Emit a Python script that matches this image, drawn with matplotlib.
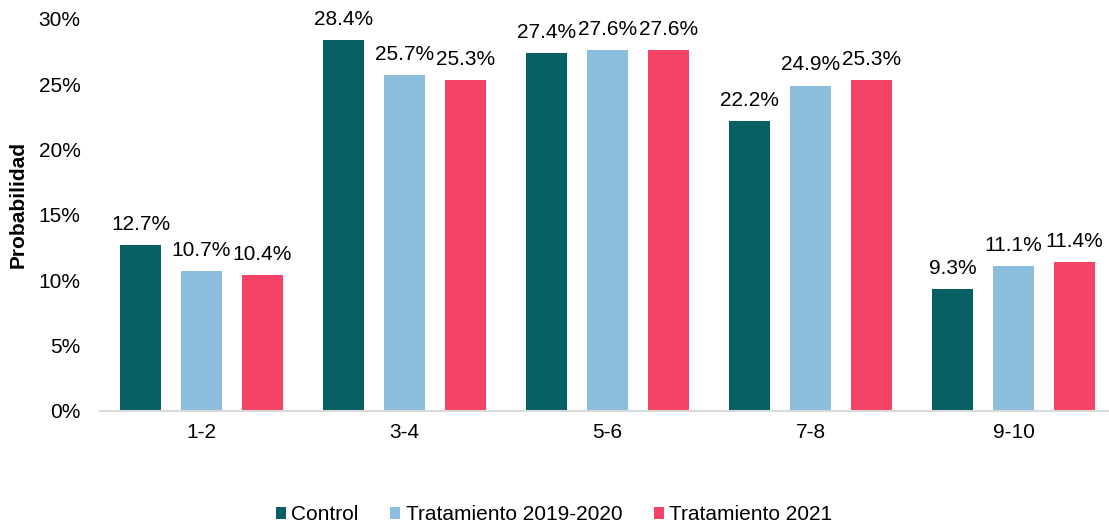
import matplotlib
matplotlib.use("Agg")
import matplotlib.pyplot as plt
import numpy as np

plt.rcParams['font.family'] = ['Liberation Sans', 'DejaVu Sans']

categories = ["1-2", "3-4", "5-6", "7-8", "9-10"]
series_names = ["Control", "Tratamiento 2019-2020", "Tratamiento 2021"]
control = [12.7, 28.4, 27.4, 22.2, 9.3]
trat_2019_2020 = [10.7, 25.7, 27.6, 24.9, 11.1]
trat_2021 = [10.4, 25.3, 27.6, 25.3, 11.4]
colors = ["#065F63", "#8BBDDC", "#F54366"]

W, H = 1109, 529
FS = 15
fig = plt.figure(figsize=(W / 100, H / 100), dpi=100)
left_px, right_px, bottom_px, top_px = 100, 1115, 411, 19
ax = fig.add_axes([left_px / W, (H - bottom_px) / H, (right_px - left_px) / W, (bottom_px - top_px) / H])

x = np.arange(len(categories))
width = 0.2
offsets = [-0.3, 0.0, 0.3]
for vals, off, col, name in zip([control, trat_2019_2020, trat_2021], offsets, colors, series_names):
    bars = ax.bar(x + off, vals, width, color=col, label=name)
    for b, v in zip(bars, vals):
        ax.annotate(f"{v:.1f}%", (b.get_x() + b.get_width() / 2, v), xytext=(0, 11),
                    textcoords="offset points", ha="center", va="baseline",
                    fontsize=FS, color="#000000")

ax.set_xlim(-0.5, 4.5)
ax.set_ylim(0, 30)
ax.set_yticks(np.arange(0, 31, 5))
ax.set_yticklabels([f"{t}%" for t in range(0, 31, 5)], fontsize=FS)
ax.set_xticks(x)
ax.set_xticklabels(categories, fontsize=FS)
ax.tick_params(length=0)
ax.tick_params(axis='x', pad=9)
ax.tick_params(axis='y', pad=14)
for s in ["top", "right", "left"]:
    ax.spines[s].set_visible(False)
ax.spines["bottom"].set_color("#D9D9D9")
ax.spines["bottom"].set_linewidth(1.5)
ax.set_ylabel("Probabilidad", fontsize=FS, fontweight="bold")
ax.yaxis.set_label_coords(-0.071, 0.528)

fig.legend(loc="center", bbox_to_anchor=(554 / W, 14 / H), ncol=3, frameon=False,
           fontsize=FS, handlelength=0.5, handleheight=0.5, handletextpad=0.25,
           columnspacing=1.5, borderpad=0, borderaxespad=0)

fig.savefig("out.png", dpi=100)
